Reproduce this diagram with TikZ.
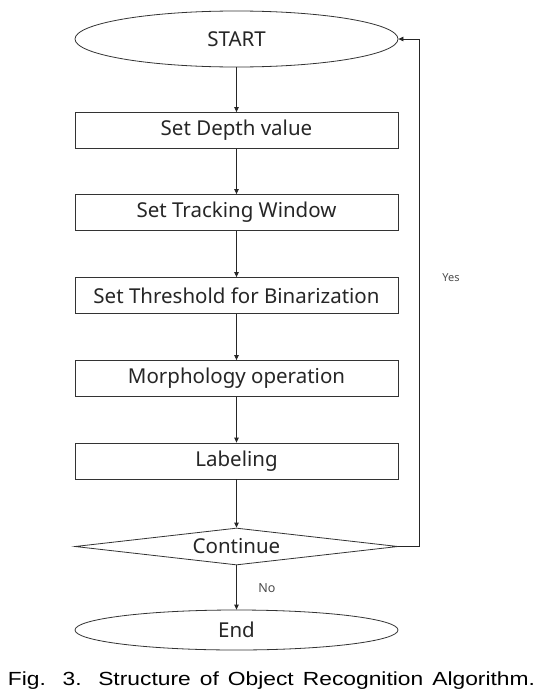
\documentclass[tikz,border=0pt]{standalone}
\usepackage{fontspec}
\setmainfont{Noto Sans}
\newfontfamily\capfont[FakeStretch=1.2]{Liberation Sans}
\usetikzlibrary{shapes.geometric,arrows.meta}
\begin{document}
\begin{tikzpicture}[x=1pt,y=-1pt,
  every node/.style={font=\fontsize{20.5}{24}\selectfont, text=black!85},
  procbox/.style={draw=black!80, line width=0.8pt, rectangle, minimum width=323pt, minimum height=36pt, inner sep=0pt},
  term/.style={draw=black!80, line width=0.8pt, ellipse, minimum width=323pt, inner sep=0pt},
  decide/.style={draw=black!80, line width=0.8pt, diamond, shape aspect=8.7, minimum width=323pt, minimum height=37pt, inner sep=0pt},
  flow/.style={draw=black!85, line width=0.8pt, -{Triangle[length=5pt,width=4.5pt]}},
  smalllbl/.style={font=\fontsize{11}{13}\selectfont, text=black!70}
]
\useasboundingbox (0,0) rectangle (545,699);
\fill[white] (0,0) rectangle (545,699);
\node[term, minimum height=56pt] (start) at (236.5,39) {START};
\node[procbox] (depth) at (236.5,130.5) {Set Depth value};
\node[procbox] (track) at (236.5,212.5) {Set Tracking Window};
\node[procbox] (thresh) at (236.5,295.5) {Set Threshold for Binarization};
\node[procbox] (morph) at (236.5,378.5) {Morphology operation};
\node[procbox] (label) at (236.5,461) {Labeling};
\node[decide] (cont) at (236.5,546.5) {Continue};
\node[term, minimum height=40pt] (end) at (236.5,630) {End};
\coordinate (loopc) at (419,546.5);
\node[smalllbl] (yes) at (451,278) {Yes};
\node[smalllbl, font=\fontsize{12.5}{14}\selectfont] (no) at (267,588) {No};
\node[font=\capfont\fontsize{19}{22}\selectfont, text=black] (cap) at (271.5,681)
  {\makebox[527pt][s]{Fig. 3. Structure of Object Recognition Algorithm.}};
\draw[flow] (start) -- (depth);
\draw[flow] (depth) -- (track);
\draw[flow] (track) -- (thresh);
\draw[flow] (thresh) -- (morph);
\draw[flow] (morph) -- (label);
\draw[flow] (label) -- (cont);
\draw[flow] (cont) -- (end);
\draw[flow] (cont.east) -- (loopc) |- (start.east);
\end{tikzpicture}
\end{document}
